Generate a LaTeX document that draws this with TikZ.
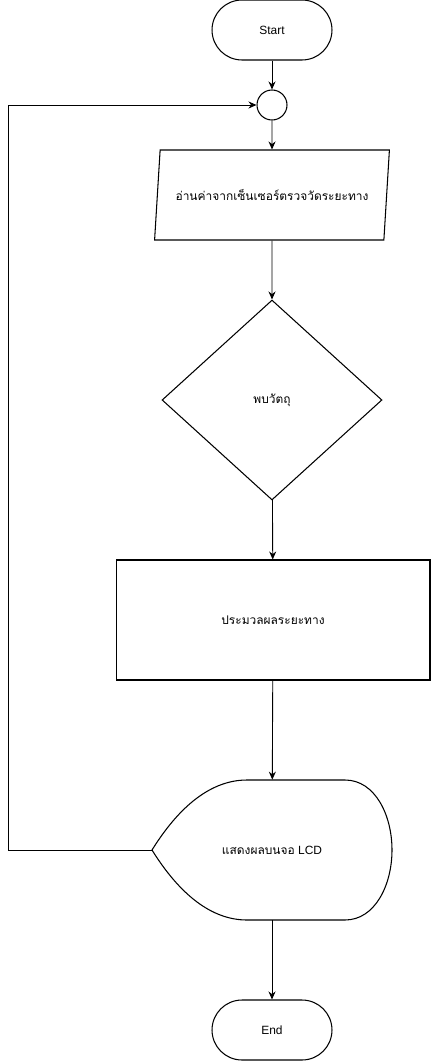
\documentclass[tikz,border=0pt]{standalone}
\usepackage{fontspec}
\setmainfont{Liberation Sans}
\newfontfamily\thaifont[Script=Thai]{Loma}
\usetikzlibrary{shapes.geometric,arrows.meta}

\begin{document}
\begin{tikzpicture}[
    x=0.02cm, y=-0.02cm,
    terminal/.style={
        rectangle,
        rounded corners=0.6cm,
        minimum width=2.4cm,
        minimum height=1.2cm,
        draw,
        line width=0.6pt,
        font=\fontsize{6.8}{8}\selectfont
    },
    joint/.style={
        circle,
        minimum size=0.6cm,
        draw,
        line width=0.6pt
    },
    inputbox/.style={
        trapezium,
        trapezium stretches=true,
        trapezium left angle=77.5,
        trapezium right angle=102.5,
        minimum width=4.7cm,
        minimum height=1.8cm,
        draw,
        line width=0.6pt,
        font=\fontsize{6.8}{8}\selectfont
    },
    decision/.style={
        diamond,
        inner sep=0pt,
        minimum width=4.4cm,
        minimum height=4cm,
        draw,
        line width=0.6pt,
        font=\fontsize{6.8}{8}\selectfont
    },
    process/.style={
        rectangle,
        minimum width=6.28cm,
        minimum height=2.4cm,
        draw,
        line width=0.6pt,
        font=\fontsize{6.8}{8}\selectfont
    },
    displaybox/.style={
        rectangle,
        minimum width=4.8cm,
        minimum height=2.8cm,
        font=\fontsize{6.8}{8}\selectfont
    },
    flow/.style={
        -{Stealth[length=1.6mm,width=1.4mm]},
        line width=0.5pt
    }
]
\useasboundingbox (0,0) rectangle (431,1061);

% Steps
\node[terminal] (start) at (272,30) {Start};
\node[joint] (join) at (272,105) {};
\node[inputbox] (read) at (272,195) {\thaifont อ่านค่าจากเซ็นเซอร์ตรวจวัดระยะทาง};
\node[decision] (found) at (272,400) {\thaifont พบวัตถุ};
\node[process] (calc) at (273,620) {\thaifont ประมวลผลระยะทาง};
\node[displaybox] (display) at (272,850) {{\thaifont แสดงผลบนจอ} LCD};
\node[terminal] (end) at (272,1030) {End};

% Display outline
\draw[line width=0.6pt] (152,850) .. controls (180,805) and (212,780) .. (247,780)
    -- (345,780) .. controls (375,780) and (392,815) .. (392,850)
    .. controls (392,885) and (375,920) .. (345,920)
    -- (247,920) .. controls (212,920) and (180,895) .. cycle;

% Flow
\draw[flow] (start) -- (join);
\draw[flow] (join) -- (read);
\draw[flow] (read) -- (found);
\draw[flow] (found) -- (calc);
\draw[flow] (calc) -- (display);
\draw[flow] (display) -- (end);

% Loop back
\coordinate (loopcorner) at (8,850);
\draw[flow] (display.west) -- (loopcorner) |- (join.west);

\end{tikzpicture}
\end{document}
